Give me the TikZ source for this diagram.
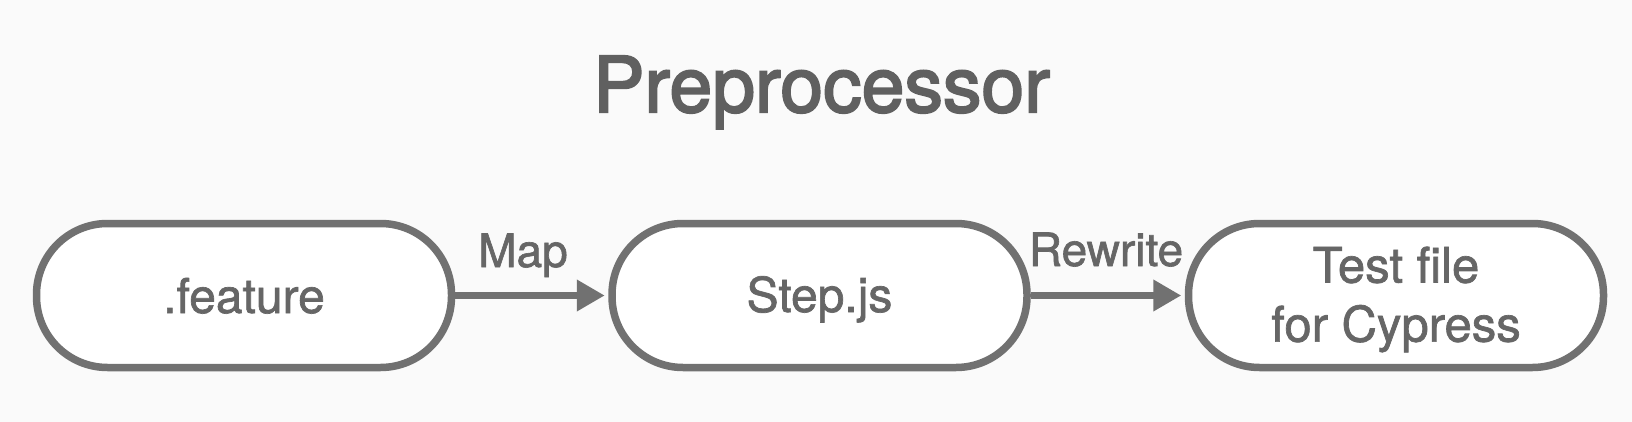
\documentclass[tikz,border=0pt]{standalone}
\usepackage{fontspec}
\setmainfont{TeX Gyre Heros}
\newfontfamily\medfont[FakeBold=2.6]{TeX Gyre Heros}
\newfontfamily\semifont[FakeBold=1.4]{TeX Gyre Heros}
\usetikzlibrary{arrows.meta}
\definecolor{bgc}{HTML}{FAFAFA}
\definecolor{strokec}{HTML}{717171}
\definecolor{textc}{HTML}{666666}
\definecolor{titlec}{HTML}{606060}
\tikzset{
  stadium/.style={draw=strokec, line width=7.5pt, fill=white, rounded corners=71pt,
    minimum width=415pt, minimum height=144pt, inner sep=0pt},
  boxtext/.style={text=textc, inner sep=0pt, font=\semifont\fontsize{48}{59}\selectfont, align=center},
  lbl/.style={text=textc, inner sep=0pt, font=\semifont\fontsize{46}{55}\selectfont},
  flow/.style={draw=strokec, line width=7.5pt, -{Triangle[length=28pt, width=30pt]}, shorten >=3.5pt}
}
\begin{document}
\begin{tikzpicture}[x=1pt,y=-1pt]
\useasboundingbox[fill=bgc] (0,0) rectangle (1632,422);
\node[text=titlec, inner sep=0pt, anchor=base, font=\medfont\fontsize{77}{90}\selectfont] (title) at (821.5,112) {Preprocessor};
\node[stadium] (b1) at (244,295.5) {};
\node[stadium] (b2) at (819.5,295.5) {};
\node[stadium] (b3) at (1396,295.5) {};
\draw[flow] (b1.east) -- (b2.west);
\draw[flow] (b2.east) -- (b3.west);
\node[boxtext, anchor=base] (t1) at (244,313) {.feature};
\node[boxtext, anchor=base] (t2) at (819.5,312) {Step.js};
\node[boxtext, font=\semifont\fontsize{49}{59}\selectfont] (t3) at (1396,299.5) {Test file\\for Cypress};
\node[lbl, anchor=base] (l1) at (523,267) {Map};
\node[lbl, anchor=base] (l2) at (1106,266) {Rewrite};
\end{tikzpicture}
\end{document}
